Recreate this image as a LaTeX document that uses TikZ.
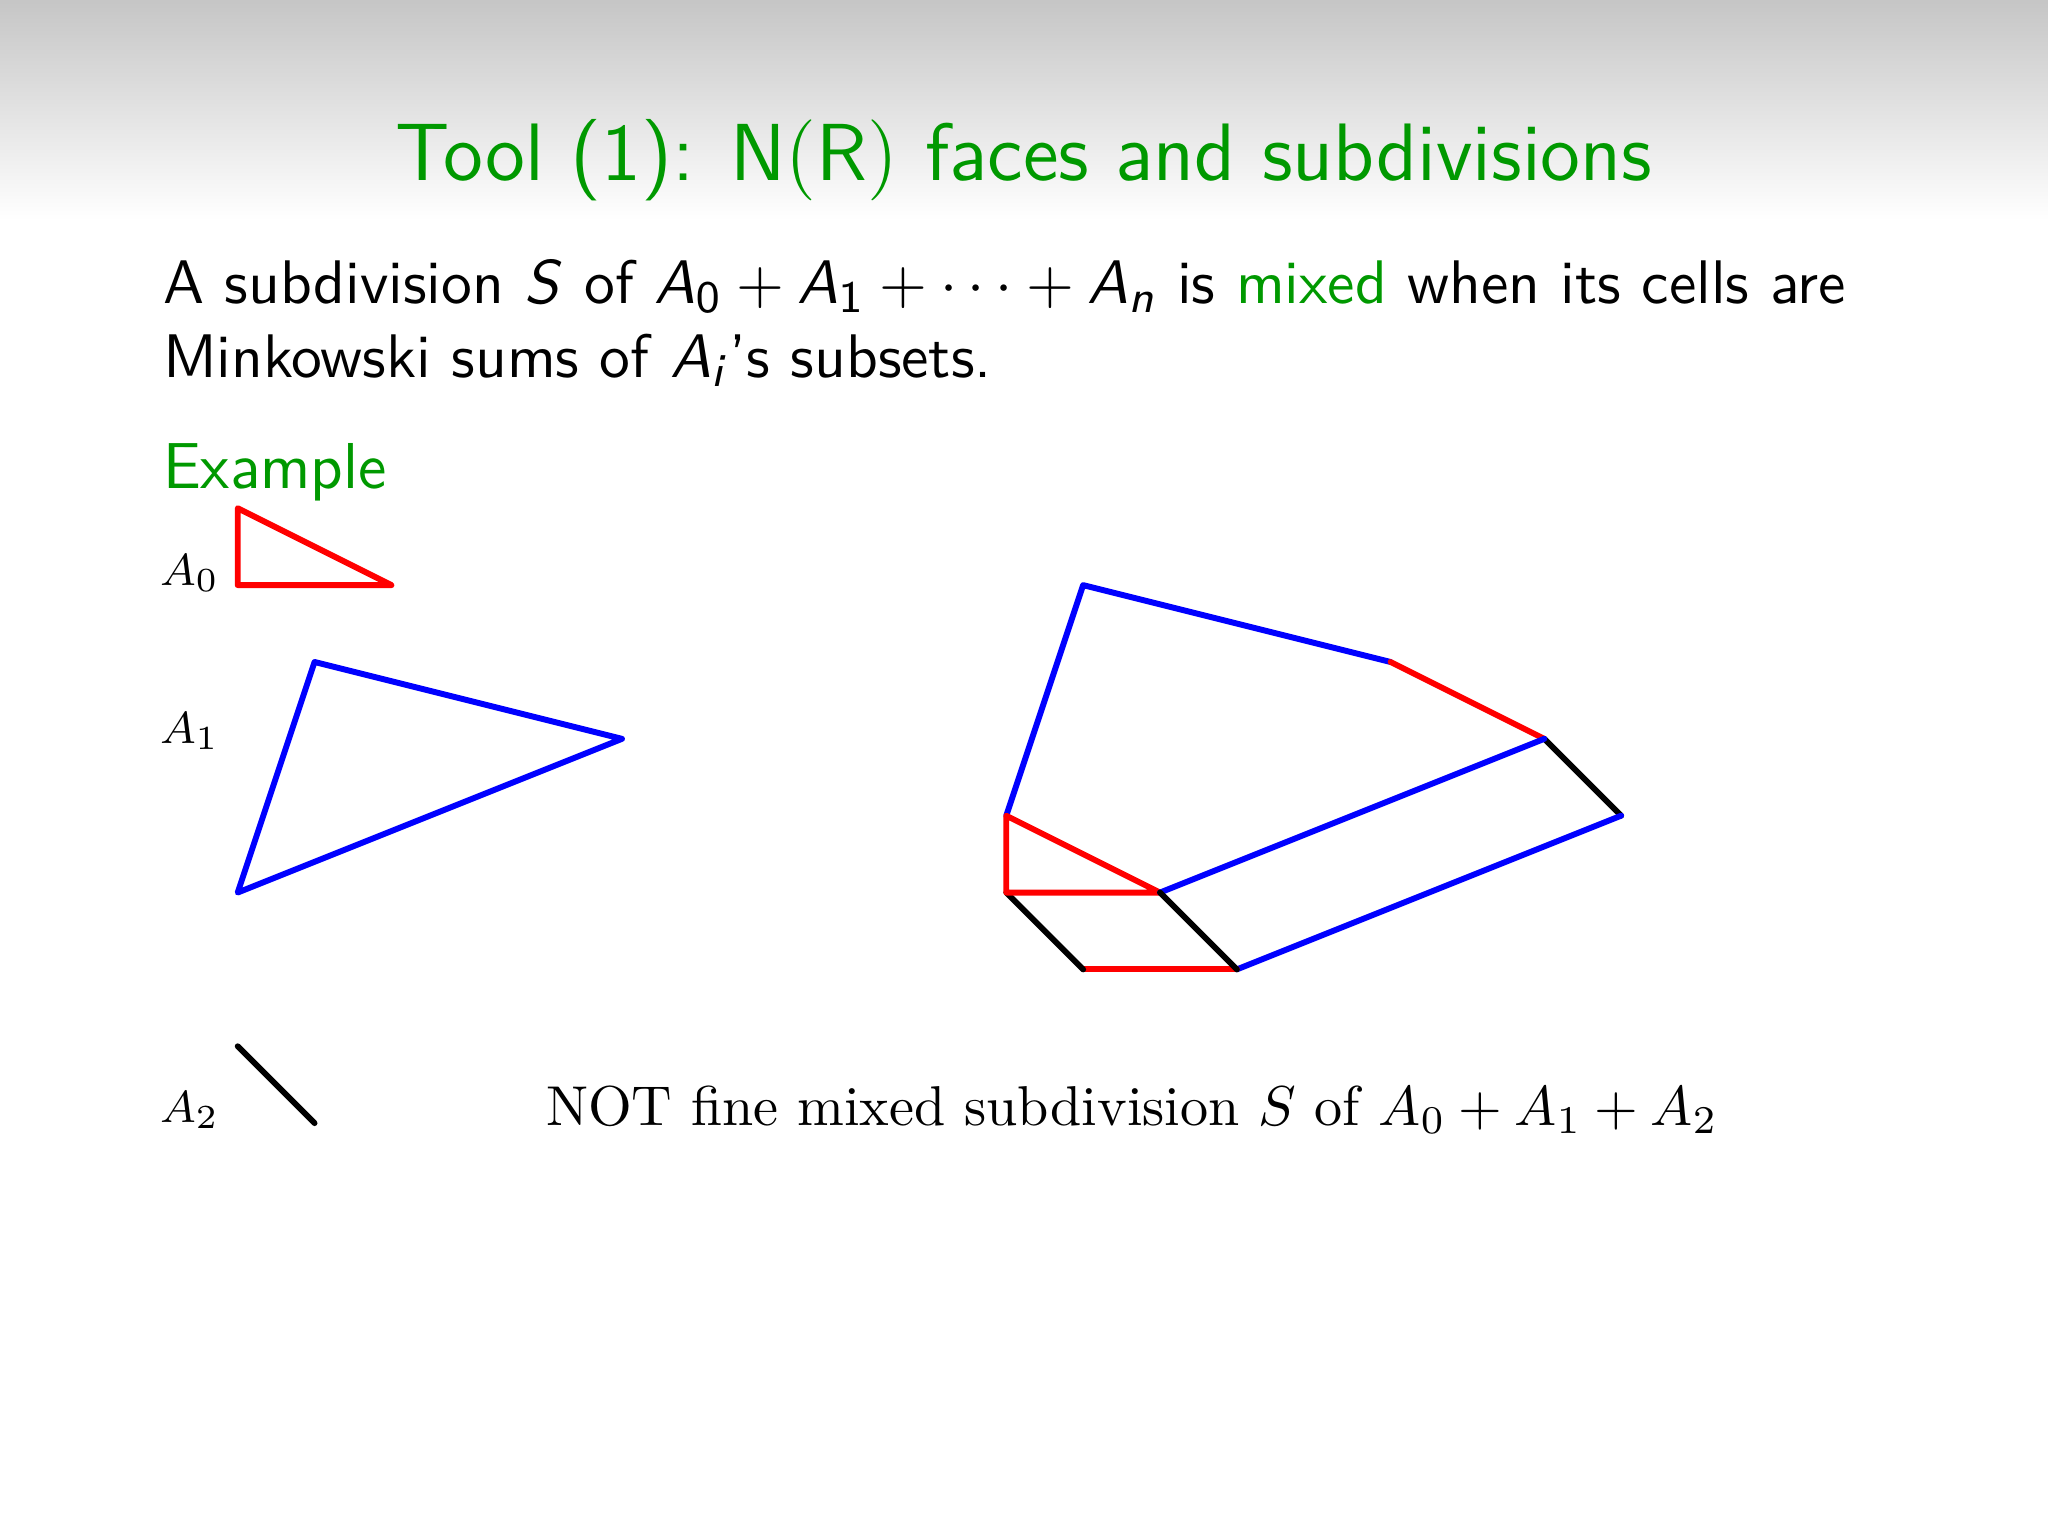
\documentclass[tikz,border=0pt]{standalone}
\usepackage{tikz}
\usetikzlibrary{positioning}
\definecolor{slidegreen}{rgb}{0,0.6,0}
\DeclareMathAlphabet{\mathsfsl}{OT1}{cmss}{m}{sl}
\newcommand{\Asub}[1]{\mathsfsl{A}_{#1}}
\tikzstyle{T} = [anchor=base,text=slidegreen,font=\sffamily\fontsize{14.5}{17}\selectfont]
\tikzstyle{B} = [anchor=base west,inner sep=0pt,font=\sffamily\fontsize{10.95}{13.6}\selectfont]
\tikzstyle{L} = [anchor=base west,inner sep=0pt,font=\fontsize{8}{9.6}\selectfont]
\tikzstyle{C} = [anchor=base west,inner sep=0pt,font=\fontsize{10}{12}\selectfont]
\tikzstyle{E} = [line width=1.05pt,line cap=round,line join=round]
\tikzstyle{E0} = [E,red]
\tikzstyle{E1} = [E,blue]
\tikzstyle{E2} = [E,black]

\begin{document}
\begin{tikzpicture}[x=0.00625cm,y=-0.00625cm]
  \fill [white] (0,0) rectangle (2048,1536);
  \shade [top color=gray!45,bottom color=white] (0,0) rectangle (2048,220);
  \useasboundingbox (0,0) rectangle (2048,1536);

  \node [T] (title) at (1024,180) {Tool (1): $\mathsf{N}(\mathsf{R})$ faces and subdivisions};
  \node [B] (line1) at (162,303) {A subdivision $\mathsfsl{S}$ of $\Asub{\mathsf{0}}+\Asub{\mathsf{1}}+\cdots+\Asub{\mathsfsl{n}}$ is \textcolor{slidegreen}{mixed} when its cells are};
  \node [B] (line2) at (162,377) {Minkowski sums of $\Asub{\mathsfsl{i}}$'s subsets.};
  \node [B,text=slidegreen,font=\sffamily\fontsize{11.55}{14}\selectfont] (example) at (162,488) {Example};

  \node [L] (l0) at (159,585) {$A_0$};
  \node [L] (l1) at (159,743) {$A_1$};
  \node [L] (l2) at (159,1122) {$A_2$};
  \node [C] (caption) at (545,1125) {NOT fine mixed subdivision $S$ of $A_0+A_1+A_2$};

  \begin{scope}[shift={(237.7,585.1)},x=0.4808cm,y=0.4808cm]
    \coordinate (a0t) at (0,1);
    \coordinate (a0o) at (0,0);
    \coordinate (a0r) at (2,0);
    \coordinate (a1t) at (1,-1);
    \coordinate (a1r) at (5,-2);
    \coordinate (a1b) at (0,-4);
    \coordinate (a2t) at (0,-6);
    \coordinate (a2b) at (1,-7);

    \draw [E0] (a0t) -- (a0o) -- (a0r) -- cycle;
    \draw [E1] (a1t) -- (a1r) -- (a1b) -- cycle;
    \draw [E2] (a2t) -- (a2b);

    \coordinate (p1) at (11,0);
    \coordinate (p2) at (15,-1);
    \coordinate (p3) at (17,-2);
    \coordinate (p4) at (18,-3);
    \coordinate (p5) at (13,-5);
    \coordinate (p6) at (11,-5);
    \coordinate (p7) at (10,-4);
    \coordinate (p8) at (10,-3);
    \coordinate (p9) at (12,-4);

    \draw [E1] (p8) -- (p1) -- (p2);
    \draw [E0] (p2) -- (p3);
    \draw [E2] (p3) -- (p4);
    \draw [E1] (p4) -- (p5);
    \draw [E0] (p5) -- (p6);
    \draw [E2] (p6) -- (p7);
    \draw [E0] (p7) -- (p8) -- (p9) -- cycle;
    \draw [E1] (p9) -- (p3);
    \draw [E2] (p9) -- (p5);
  \end{scope}
\end{tikzpicture}
\end{document}
